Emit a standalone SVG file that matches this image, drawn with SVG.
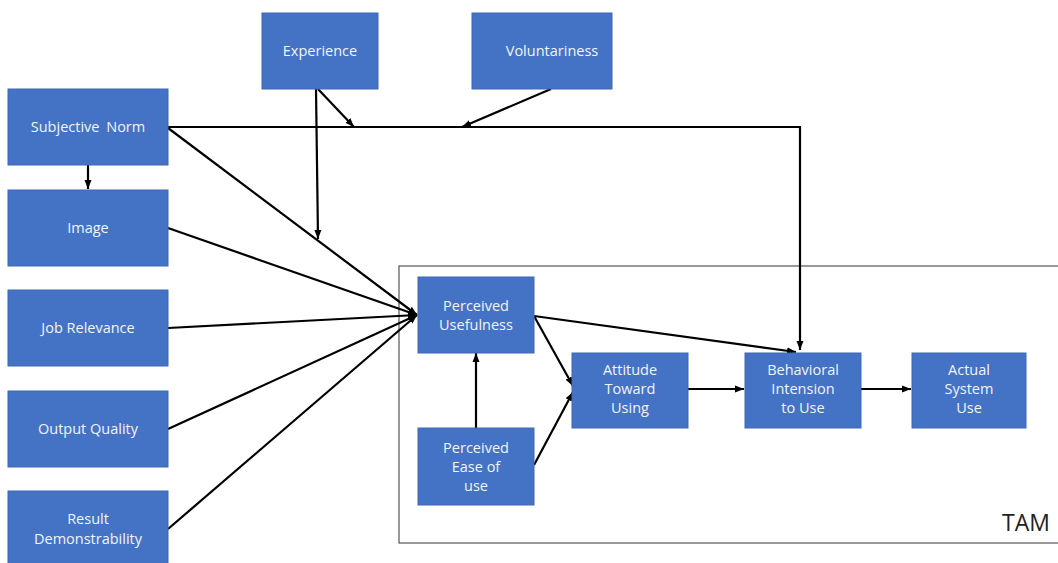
<svg xmlns="http://www.w3.org/2000/svg" width="1058" height="563" viewBox="0 0 1058 563">
<style>
.box{fill:#4472C4;stroke:#3F68B3;stroke-width:1}
.t{font-family:"Open Sans","Liberation Sans",sans-serif;font-size:14.5px;fill:#F2F5FB;text-anchor:middle}
.c{stroke:#000;stroke-width:2.2;fill:none}
</style>
<defs>
<marker id="ah" markerUnits="userSpaceOnUse" markerWidth="10" markerHeight="10" refX="9" refY="5" orient="auto">
<path d="M0,1.5 L9,5 L0,8.5 Z" fill="#000"/>
</marker>
</defs>
<rect width="1058" height="563" fill="#fff"/>
<g id="tam-frame">
<rect x="399" y="266" width="680" height="277" fill="none" stroke="#555" stroke-width="1.2"/>
<text x="1050" y="531" font-family="'Open Sans','Liberation Sans',sans-serif" font-size="23" fill="#222" text-anchor="end">TAM</text>
</g>
<g id="connectors">
<path class="c" d="M168,127 H800 V350" marker-end="url(#ah)"/>
<line class="c" x1="88" y1="165" x2="88" y2="189" marker-end="url(#ah)"/>
<line class="c" x1="316" y1="89" x2="318" y2="239" marker-end="url(#ah)"/>
<line class="c" x1="318" y1="89" x2="354" y2="127" marker-end="url(#ah)"/>
<line class="c" x1="551" y1="89" x2="462" y2="127" marker-end="url(#ah)"/>
<line class="c" x1="168" y1="128" x2="417" y2="315" marker-end="url(#ah)"/>
<line class="c" x1="168" y1="228" x2="417" y2="315" marker-end="url(#ah)"/>
<line class="c" x1="168" y1="328" x2="417" y2="315" marker-end="url(#ah)"/>
<line class="c" x1="168" y1="429" x2="417" y2="315" marker-end="url(#ah)"/>
<line class="c" x1="168" y1="529" x2="417" y2="315" marker-end="url(#ah)"/>
<line class="c" x1="476" y1="428" x2="476" y2="353" marker-end="url(#ah)"/>
<line class="c" x1="534" y1="316" x2="573" y2="386" marker-end="url(#ah)"/>
<line class="c" x1="534" y1="465" x2="573" y2="392" marker-end="url(#ah)"/>
<line class="c" x1="534" y1="316" x2="796" y2="352" marker-end="url(#ah)"/>
<line class="c" x1="688" y1="389" x2="744" y2="389" marker-end="url(#ah)"/>
<line class="c" x1="861" y1="389" x2="911" y2="389" marker-end="url(#ah)"/>
</g>
<g id="experience"><rect class="box" x="262" y="13" width="116" height="76"/><text class="t" x="320" y="56">Experience</text></g>
<g id="voluntariness"><rect class="box" x="472" y="13" width="140" height="76"/><text class="t" x="552" y="56">Voluntariness</text></g>
<g id="subjective-norm"><rect class="box" x="8" y="89" width="160" height="76"/><text class="t" x="88" y="132" word-spacing="3">Subjective Norm</text></g>
<g id="image"><rect class="box" x="8" y="190" width="160" height="76"/><text class="t" x="88" y="233">Image</text></g>
<g id="job-relevance"><rect class="box" x="8" y="290" width="160" height="76"/><text class="t" x="88" y="333">Job Relevance</text></g>
<g id="output-quality"><rect class="box" x="8" y="391" width="160" height="76"/><text class="t" x="88" y="434">Output Quality</text></g>
<g id="result-demonstrability"><rect class="box" x="8" y="491" width="160" height="80"/><text class="t" x="88" y="524">Result</text><text class="t" x="88" y="544">Demonstrability</text></g>
<g id="perceived-usefulness"><rect class="box" x="418" y="277" width="116" height="76"/><text class="t" x="476" y="311">Perceived</text><text class="t" x="476" y="330">Usefulness</text></g>
<g id="perceived-ease"><rect class="box" x="418" y="428" width="116" height="77"/><text class="t" x="476" y="453">Perceived</text><text class="t" x="476" y="472">Ease of</text><text class="t" x="476" y="491">use</text></g>
<g id="attitude"><rect class="box" x="572" y="353" width="116" height="75"/><text class="t" x="630" y="375">Attitude</text><text class="t" x="630" y="394">Toward</text><text class="t" x="630" y="413">Using</text></g>
<g id="behavioral-intension"><rect class="box" x="745" y="353" width="116" height="75"/><text class="t" x="803" y="375">Behavioral</text><text class="t" x="803" y="394">Intension</text><text class="t" x="803" y="413">to Use</text></g>
<g id="actual-use"><rect class="box" x="912" y="353" width="114" height="75"/><text class="t" x="969" y="375">Actual</text><text class="t" x="969" y="394">System</text><text class="t" x="969" y="413">Use</text></g>
</svg>
